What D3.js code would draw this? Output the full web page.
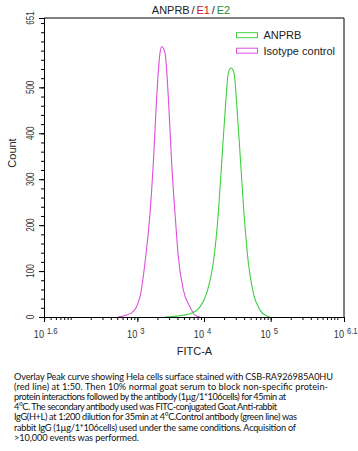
<!DOCTYPE html>
<html><head><meta charset="utf-8">
<script src="https://cdn.jsdelivr.net/npm/d3@7"></script>
<style>body{margin:0;background:#fff}svg{display:block}</style>
</head><body>
<script>
// Data (FITC-A intensity, event count)
const isotypeFITC  = [513, 822, 1096, 1303, 1549, 1738, 1950, 2188, 2317, 2600, 2917, 3273, 3673, 4121, 4898, 6166, 7328, 8710];
const isotypeCount = [0, 9, 44, 118, 226, 335, 479, 575, 589, 575, 479, 335, 226, 131, 59, 22, 4, 0];
const anprbFITC    = [2600, 3890, 6166, 8710, 10965, 13800, 16400, 18400, 20650, 23170, 25400, 28180, 31620, 35480, 39810, 46240, 54950, 69180, 87100, 97720];
const anprbCount   = [0, 2, 7, 22, 52, 118, 226, 335, 444, 531, 542, 531, 444, 335, 226, 118, 52, 15, 2, 0];
const yLabelTicks  = [0, 100, 200, 300, 400, 500, 651];
const xLabelExps   = ["1.6", "3", "4", "5", "6.1"];
const legendNames  = ["ANPRB", "Isotype control"];
const captionLines = [
  "Overlay Peak curve showing Hela cells surface stained with CSB-RA926985A0HU",
  "(red line) at 1:50. Then 10% normal goat serum to block non-specific protein-",
  "protein interactions followed by the antibody (1µg/1*106cells) for 45min at",
  "4°C. The secondary antibody used was FITC-conjugated Goat Anti-rabbit",
  "IgG(H+L) at 1:200 dilution for 35min at 4°C.Control antibody (green line) was",
  "rabbit IgG (1µg/1*106cells) used under the same conditions. Acquisition of",
  ">10,000 events was performed."
];
const captionWidths = [319, 314, 272, 263, 283, 282, 125];

const W = 358, H = 451;
const L = 44, R = 344, T = 18, B = 317;
const GREEN = "#3fcf3f", MAGENTA = "#dd4fdd";
const FONT = "'Liberation Sans', Arial, sans-serif";

const svg = d3.select("body").append("svg").attr("width", W).attr("height", H);

const x = d3.scaleLog().domain([Math.pow(10,1.6), Math.pow(10,6.1)]).range([L, R]);
const y = d3.scaleLinear().domain([0, 651]).range([B, T]);

// Title
const title = svg.append("text").attr("x", 191).attr("y", 14).attr("text-anchor", "middle")
  .attr("font-family", FONT).attr("font-size", 11).attr("fill", "#222").attr("word-spacing", -1.2);
title.append("tspan").text("ANPRB / ");
title.append("tspan").attr("fill", "#c8102e").text("E1");
title.append("tspan").text(" / ");
title.append("tspan").attr("fill", "#2e8b2e").text("E2");

// Curves
const line = d3.line().x(d => x(d[0])).y(d => y(d[1])).curve(d3.curveMonotoneX);
svg.append("path").datum(d3.zip(isotypeFITC, isotypeCount)).attr("d", line)
  .attr("fill", "none").attr("stroke", MAGENTA).attr("stroke-width", 1.1);
svg.append("path").datum(d3.zip(anprbFITC, anprbCount)).attr("d", line)
  .attr("fill", "none").attr("stroke", GREEN).attr("stroke-width", 1.1);

// Frame
svg.append("path").attr("d", `M${L},${T}H${R}V${B}`).attr("fill", "none").attr("stroke", "#000").attr("stroke-width", 1);

// Y axis
const yMinor = d3.range(0, 651, 20);
const gy = svg.append("g").attr("transform", `translate(${L},0)`);
gy.call(d3.axisLeft(y).tickValues(yMinor).tickSize(3).tickFormat(""));
gy.append("g").call(d3.axisLeft(y).tickValues(yLabelTicks).tickSize(5).tickFormat(""));
gy.selectAll("path.domain").attr("stroke", "#000");
gy.selectAll("line").attr("stroke", "#000");
gy.selectAll(".ylab").data(yLabelTicks).enter().append("text")
  .attr("transform", d => `translate(-10,${y(d)}) rotate(-90) scale(0.8,1)`)
  .attr("text-anchor", "middle").attr("font-family", FONT).attr("font-size", 10).attr("fill", "#333")
  .text(d => d);

svg.append("text").attr("transform", `translate(16,153) rotate(-90)`).attr("text-anchor", "middle")
  .attr("font-family", FONT).attr("font-size", 11).attr("fill", "#222").text("Count");

// X axis
const xMinor = [];
for (let k = 1; k <= 6; k++) for (let m = 1; m <= 9; m++) {
  const v = m * Math.pow(10, k);
  if (v > x.domain()[0] && v < x.domain()[1]) xMinor.push(v);
}
const xMajor = xLabelExps.map(e => Math.pow(10, +e));
const gx = svg.append("g").attr("transform", `translate(0,${B})`);
gx.call(d3.axisBottom(x).tickValues(xMinor).tickSize(3).tickFormat(""));
gx.append("g").call(d3.axisBottom(x).tickValues(xMajor).tickSize(5).tickFormat(""));
gx.selectAll("path.domain").attr("stroke", "#000");
gx.selectAll("line").attr("stroke", "#000");
const xl = gx.selectAll(".xlab").data(xLabelExps).enter().append("g")
  .attr("transform", e => `translate(${x(Math.pow(10, +e))},0)`);
xl.append("text").attr("transform", "translate(0,21) scale(0.8,1)").attr("text-anchor", "end")
  .attr("font-family", FONT).attr("font-size", 11.5).attr("fill", "#333").text("10");
xl.append("text").attr("transform", "translate(3,16.5) scale(0.85,1)").attr("text-anchor", "start")
  .attr("font-family", FONT).attr("font-size", 9).attr("fill", "#333").text(e => e);

svg.append("text").attr("x", 194.5).attr("y", 355).attr("text-anchor", "middle")
  .attr("font-family", FONT).attr("font-size", 11).attr("fill", "#222").text("FITC-A");

// Legend
const colors = [GREEN, MAGENTA];
const lg = svg.selectAll(".leg").data(legendNames).enter().append("g")
  .attr("transform", (d, i) => `translate(236.5,${35.2 + i * 15.5})`);
lg.append("rect").attr("x", 0).attr("y", -2.5).attr("width", 21).attr("height", 5)
  .attr("fill", "#fff").attr("stroke", (d, i) => colors[i]).attr("stroke-width", 1);
lg.append("text").attr("x", 27).attr("y", 4).attr("font-family", FONT).attr("font-size", 11)
  .attr("fill", "#222").text(d => d);

// Caption
svg.selectAll(".cap").data(captionLines).enter().append("text")
  .attr("x", 14).attr("y", (d, i) => 380 + i * 10.1)
  .attr("font-family", "Lato, 'Open Sans', sans-serif").attr("font-size", 9.2).attr("fill", "#111")
  .attr("textLength", (d, i) => captionWidths[i]).attr("lengthAdjust", "spacing")
  .text(d => d);
</script>
</body></html>
